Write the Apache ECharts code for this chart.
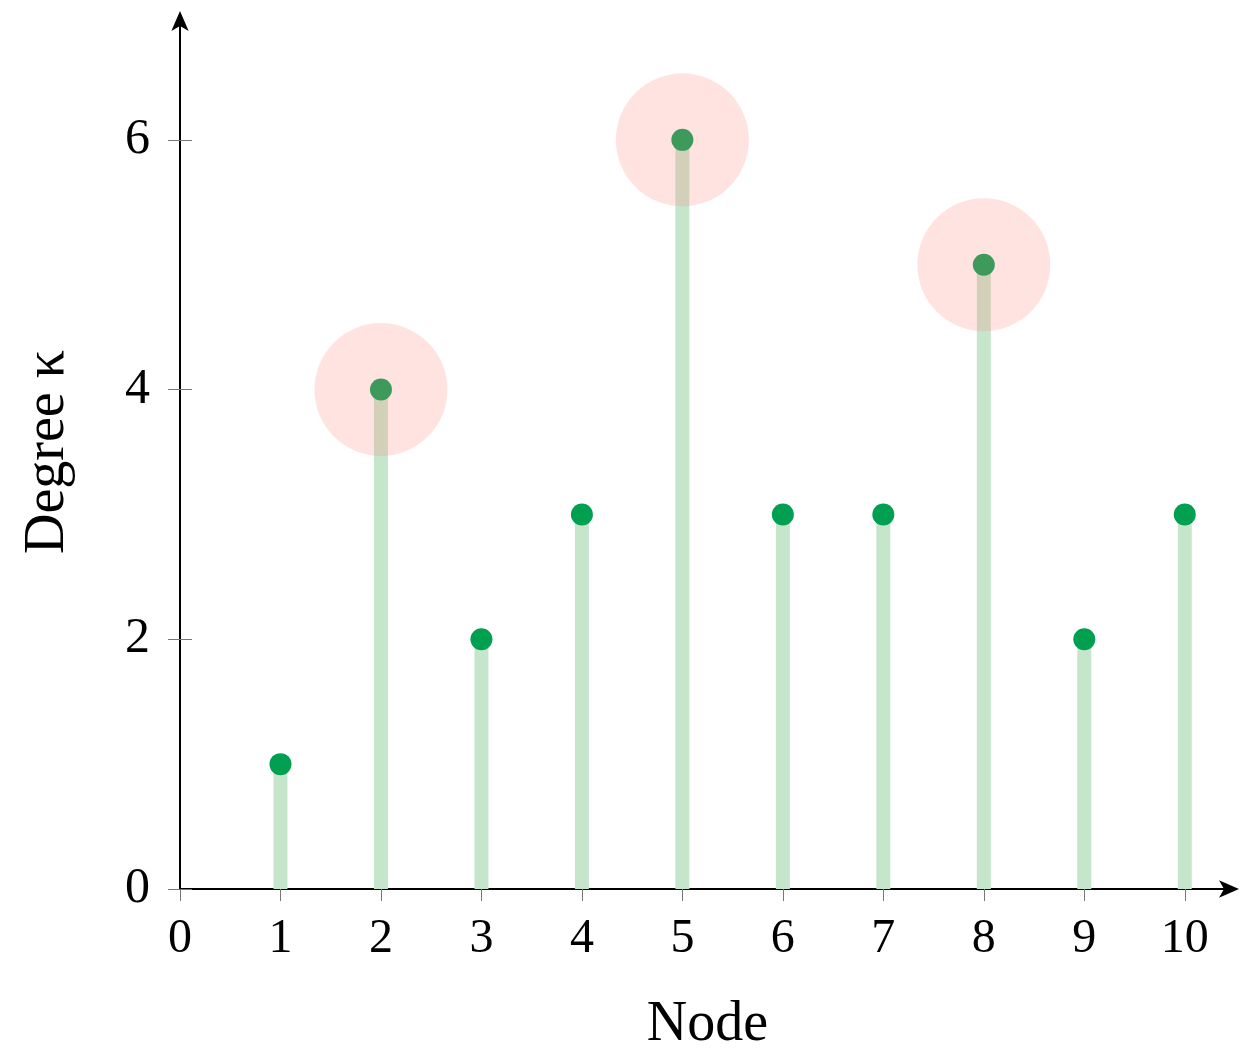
<!DOCTYPE html>
<html>
<head>
<meta charset="utf-8">
<script src="https://cdn.jsdelivr.net/npm/echarts@6/dist/echarts.min.js"></script>
<style>
html,body{margin:0;padding:0;background:#fff;}
#chart{width:1253px;height:1057px;}
</style>
</head>
<body>
<div id="chart"></div>
<script>
const nodes = [1, 2, 3, 4, 5, 6, 7, 8, 9, 10];
const degrees = [1, 4, 2, 3, 6, 3, 3, 5, 2, 3];
const highlighted = [2, 5, 8];
const xTicks = [0, 1, 2, 3, 4, 5, 6, 7, 8, 9, 10];
const yTicks = [0, 2, 4, 6];
const xTitle = 'Node';
const yTitle = 'Degree κ';

const FONT = '"Liberation Serif", "DejaVu Serif", serif';
const pairs = nodes.map((n, i) => [n, degrees[i]]);
const hiPairs = highlighted.map(n => [n, degrees[nodes.indexOf(n)]]);

const chart = echarts.init(document.getElementById('chart'), null, {renderer: 'canvas'});
chart.setOption({
  backgroundColor: '#fff',
  animation: false,
  grid: {left: 180, right: 18, top: 15, bottom: 168, containLabel: false, outerBoundsMode: 'none'},
  xAxis: [{
    type: 'value', min: 0, max: 10.5, interval: 1,
    name: xTitle, nameLocation: 'middle', nameGap: 108,
    nameTextStyle: {fontFamily: FONT, fontSize: 56, color: '#000'},
    axisLine: {show: true, onZero: false, symbol: ['none', 'arrow'], symbolSize: [13, 20], symbolOffset: [0, 4],
      lineStyle: {color: '#000', width: 2}},
    axisTick: {show: true, length: 12, lineStyle: {color: '#777', width: 1}, customValues: xTicks},
    axisLabel: {fontFamily: FONT, fontSize: 48, color: '#000', margin: 26,
      customValues: xTicks, formatter: v => String(v)},
    splitLine: {show: false}
  }],
  yAxis: [{
    type: 'value', min: 0, max: 7, interval: 2,
    name: yTitle, nameLocation: 'middle', nameGap: 104, nameRotate: 90,
    nameTextStyle: {fontFamily: FONT, fontSize: 56, color: '#000'},
    axisLine: {show: true, onZero: false, symbol: ['none', 'arrow'], symbolSize: [13, 20], symbolOffset: [0, 4],
      lineStyle: {color: '#000', width: 2}},
    axisTick: {show: true, length: 12, lineStyle: {color: '#777', width: 1}, customValues: yTicks},
    axisLabel: {fontFamily: FONT, fontSize: 50, color: '#000', margin: 30,
      customValues: yTicks, formatter: v => String(v)},
    splitLine: {show: false}
  }, {
    type: 'value', min: 0, max: 7, interval: 2, position: 'left',
    axisLine: {show: false},
    axisTick: {show: true, inside: true, length: 12, lineStyle: {color: '#777', width: 1}, customValues: yTicks},
    axisLabel: {show: false},
    splitLine: {show: false}
  }],
  series: [{
    type: 'bar', data: pairs, barWidth: 14, z: 1,
    itemStyle: {color: '#c5e6cb'}
  }, {
    type: 'scatter', data: pairs, symbol: 'circle', symbolSize: 22, z: 3,
    itemStyle: {color: '#00a050', opacity: 1}
  }, {
    type: 'scatter', data: hiPairs, symbol: 'circle', symbolSize: 133, z: 4,
    itemStyle: {color: 'rgba(255,140,128,0.24)', opacity: 1},
    emphasis: {disabled: true}
  }]
});
</script>
</body>
</html>
